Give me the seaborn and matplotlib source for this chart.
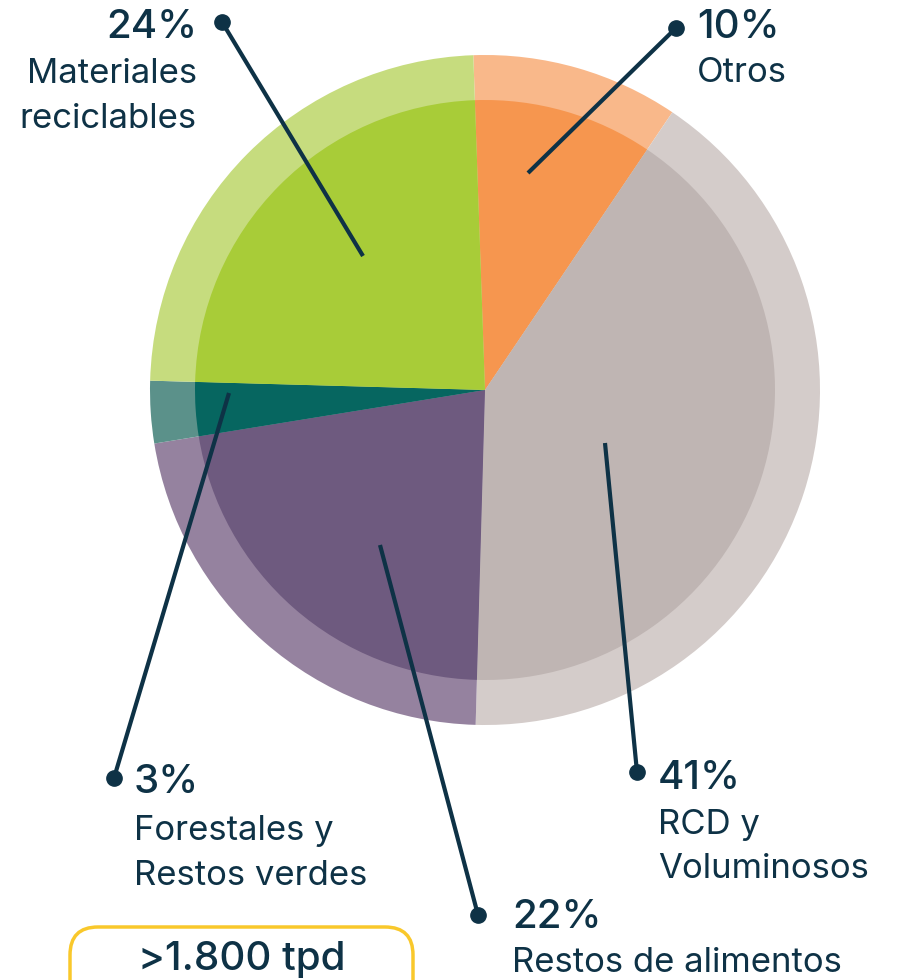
import matplotlib.pyplot as plt
import seaborn as sns
from matplotlib.patches import FancyBboxPatch

# Data (clockwise from top)
categories = ["Otros", "RCD y\nVoluminosos", "Restos de alimentos",
              "Forestales y\nRestos verdes", "Materiales\nreciclables"]
shares = [10, 41, 22, 3, 24]
pct_labels = ["10%", "41%", "22%", "3%", "24%"]
outer_colors = ["#F9B88A", "#D4CCCA", "#95829F", "#5B918A", "#C6DC7E"]
inner_colors = ["#F6964F", "#BFB5B3", "#6E5A7F", "#066660", "#A8CC38"]
total_label = ">1.800 tpd"

NAVY = "#0E3246"
W, H = 899, 980

sns.set_theme(style="white")
plt.rcParams["font.family"] = ["Inter", "DejaVu Sans"]

fig = plt.figure(figsize=(W / 100, H / 100), dpi=100)
ax = fig.add_axes([0, 0, 1, 1])

cx, cy = 485, H - 390
start = 92
ax.pie(shares, colors=outer_colors, radius=335, center=(cx, cy),
       startangle=start, counterclock=False, frame=True,
       wedgeprops=dict(linewidth=0))
ax.pie(shares, colors=inner_colors, radius=290, center=(cx, cy),
       startangle=start, counterclock=False, frame=True,
       wedgeprops=dict(linewidth=0))
ax.set_xlim(0, W)
ax.set_ylim(0, H)
ax.set_aspect("equal")
ax.axis("off")

# leader lines: (dot, end inside slice) in pixel coords (y from top)
leaders = [
    ((676, 28), (528, 173)),
    ((637, 772), (605, 443)),
    ((478, 915), (380, 545)),
    ((114, 778), (229, 393)),
    ((222, 22), (363, 256)),
]
for (x0, y0), (x1, y1) in leaders:
    ax.plot([x0, x1], [H - y0, H - y1], color=NAVY, lw=3, solid_capstyle="butt", zorder=5)
    ax.plot(x0, H - y0, "o", color=NAVY, ms=11, zorder=6)

# label anchors: x, baseline of pct, baselines of name lines, alignment
label_pos = [
    (697, 38, [82], "left"),
    (658, 789, [834, 878], "left"),
    (512, 928, [972], "left"),
    (134, 793, [840, 885], "left"),
    (197, 38, [83, 128], "right"),
]
for pct, name, (x, yp, yns, ha) in zip(pct_labels, categories, label_pos):
    ax.text(x, H - yp, pct, ha=ha, va="baseline", fontsize=29,
            fontweight="medium", color=NAVY, zorder=7)
    for line, yn in zip(name.split("\n"), yns):
        ax.text(x, H - yn, line, ha=ha, va="baseline", fontsize=25,
                color=NAVY, zorder=7)

# Total box
box = FancyBboxPatch((70, H - 1010), 343, 83,
                     boxstyle="round,pad=0,rounding_size=28",
                     fc="white", ec="#F9C82B", lw=2.5, zorder=4)
ax.add_patch(box)
ax.text(242, H - 970, total_label, ha="center", va="baseline", fontsize=29,
        fontweight="medium", color=NAVY, zorder=5)

fig.savefig("out.png", dpi=100)
